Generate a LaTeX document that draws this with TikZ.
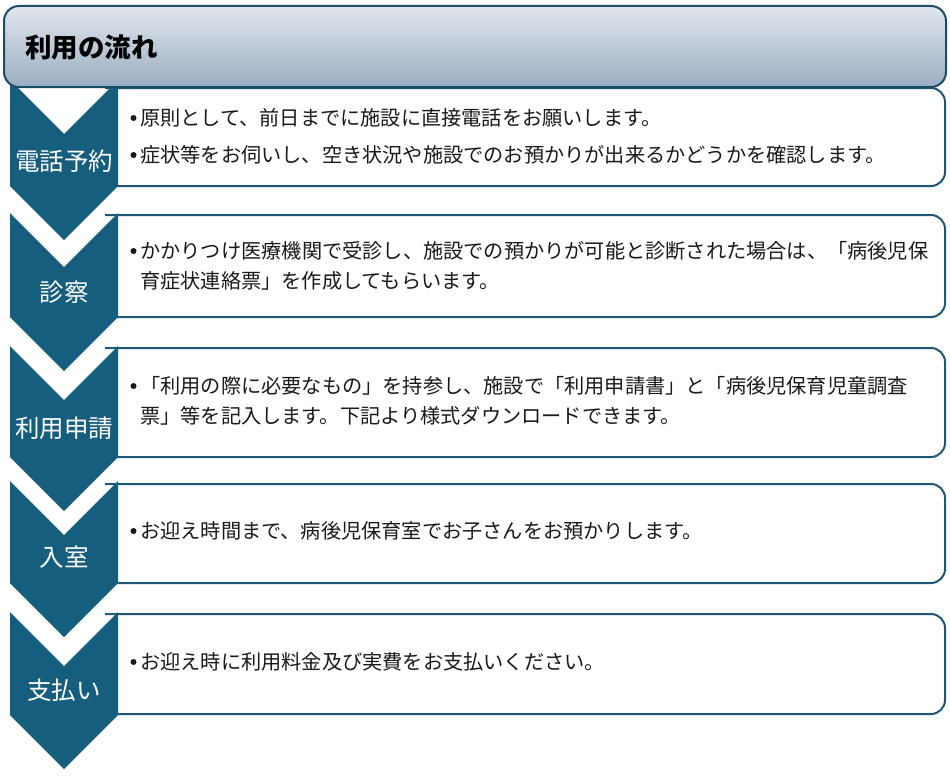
\documentclass[tikz,border=0pt]{standalone}
\usepackage{fontspec}
\newfontfamily\jp{Noto Sans CJK JP}
\definecolor{chev}{RGB}{22,94,126}
\definecolor{boxln}{RGB}{30,88,118}
\definecolor{hdrln}{RGB}{28,76,104}
\definecolor{hdrtop}{RGB}{226,230,237}
\definecolor{hdrbot}{RGB}{154,173,192}
\definecolor{txt}{RGB}{25,25,25}
\tikzset{
  boxshape/.style={draw=boxln, line width=2pt, fill=white, rounded corners=14pt},
  chevshape/.style={fill=chev},
  chevlabel/.style={text=white, inner sep=0pt, font=\jp\fontsize{24.5}{28}\selectfont},
  bodytext/.style={text=txt, anchor=west, inner sep=0pt, font=\jp\fontsize{20.2}{24}\selectfont},
  bulletdot/.style={fill=txt},
}
\begin{document}
\begin{tikzpicture}[x=1pt,y=-1pt]
\useasboundingbox (0,0) rectangle (950,776);
% content boxes
\foreach \t/\b in {88/186, 215/317, 348/457, 484/583, 614/714}{
  \draw[boxshape] (105,\t) -- (945,\t) -- (945,\b) -- (105,\b);
}
% chevrons
\foreach \t/\b in {80/186, 213/317, 346/457, 481/583, 612/715}{
  \fill[chevshape] (10,\t) -- (64,\t+54) -- (118,\t) -- (118,\b) -- (64,\b+54) -- (10,\b) -- cycle;
}
% header
\shade[top color=hdrtop, bottom color=hdrbot, rounded corners=15pt] (4,6) rectangle (946,87);
\draw[hdrln, line width=2pt, rounded corners=15pt] (4,6) rectangle (946,87);
\node[anchor=west, inner sep=0pt, text=black, font=\jp\bfseries\fontsize{26.5}{30}\selectfont] (title) at (25,48) {利用の流れ};
% chevron labels
\node[chevlabel] (c1) at (64,161) {電話予約};
\node[chevlabel] (c2) at (64,292) {診察};
\node[chevlabel] (c3) at (64,428) {利用申請};
\node[chevlabel] (c4) at (64,557) {入室};
\node[chevlabel] (c5) at (64,690) {支払い};
% bullets
\foreach \y in {118,155,251,386,531,662}{
  \fill[bulletdot] (133.5,\y) circle (3pt);
}
% texts
\node[bodytext] (t11) at (140,118) {原則として、前日までに施設に直接電話をお願いします。};
\node[bodytext] (t12) at (140,155) {症状等をお伺いし、空き状況や施設でのお預かりが出来るかどうかを確認します。};
\node[bodytext] (t21) at (140,251) {かかりつけ医療機関で受診し、施設での預かりが可能と診断された場合は、「病後児保};
\node[bodytext] (t22) at (140,281) {育症状連絡票」を作成してもらいます。};
\node[bodytext] (t31) at (140,386) {「利用の際に必要なもの」を持参し、施設で「利用申請書」と「病後児保育児童調査};
\node[bodytext] (t32) at (140,416) {票」等を記入します。下記より様式ダウンロードできます。};
\node[bodytext] (t41) at (140,531) {お迎え時間まで、病後児保育室でお子さんをお預かりします。};
\node[bodytext] (t51) at (140,662) {お迎え時に利用料金及び実費をお支払いください。};
\end{tikzpicture}
\end{document}
